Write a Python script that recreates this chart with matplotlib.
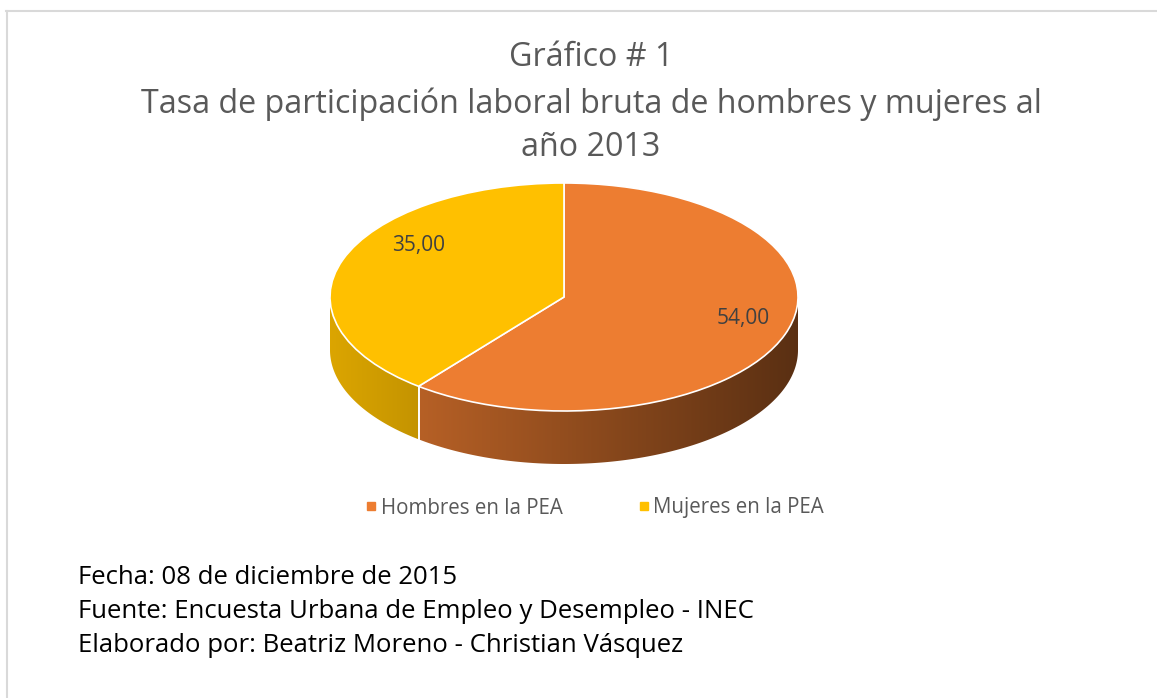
import numpy as np
import matplotlib
matplotlib.use("Agg")
import matplotlib.pyplot as plt
from matplotlib.patches import Polygon
from matplotlib.lines import Line2D
import matplotlib.colors as mcolors

# ---- data ----
categories = ["Hombres en la PEA", "Mujeres en la PEA"]
values = [54.00, 35.00]
colors = ["#ED7D31", "#FFC000"]
title_lines = ["Gráfico # 1",
               "Tasa de participación laboral bruta de hombres y mujeres al",
               "año 2013"]
footer_lines = ["Fecha: 08 de diciembre de 2015",
                "Fuente: Encuesta Urbana de Empleo y Desempleo - INEC",
                "Elaborado por: Beatriz Moreno - Christian Vásquez"]

plt.rcParams['font.family'] = ['Open Sans', 'DejaVu Sans']

W, H = 1157, 698
fig = plt.figure(figsize=(W / 100, H / 100), dpi=100)
fig.patch.set_facecolor("white")

def fx(px):
    return px / W

def fy(py):
    return 1 - py / H

# border lines (top and left)
fig.add_artist(Line2D([fx(6), 1], [fy(11), fy(11)], color="#d9d9d9", lw=1.5))
fig.add_artist(Line2D([fx(6.5), fx(6.5)], [fy(11), 0], color="#d9d9d9", lw=1.5))

# ---- pie geometry (pixels) ----
cx, cy = 564, 297
rx, ry = 234, 114
depth = 53 / ry
xl = (-1.1, 1.1)
yl = (-1.65, 1.1)
left_px = cx + xl[0] * rx
right_px = cx + xl[1] * rx
top_px = cy - yl[1] * ry
bot_px = cy - yl[0] * ry
ax = fig.add_axes([fx(left_px), fy(bot_px), (right_px - left_px) / W, (bot_px - top_px) / H])

wedges, _ = ax.pie(values, startangle=90, counterclock=False, colors=colors,
                   wedgeprops=dict(edgecolor="white", linewidth=1.2, zorder=3))
ax.set_aspect("auto")
ax.axis("off")

# side faces (front half of the ellipse)
def shade(c, f):
    r, g, b = mcolors.to_rgb(c)
    return (r * f, g * f, b * f)

for w, c in zip(wedges, colors):
    t1, t2 = w.theta1 % 360, w.theta2 % 360
    if t2 <= t1:
        t2 += 360
    segs = []
    for off in (0, 360):
        a, b = max(t1, 180 + off), min(t2, 360 + off)
        if b > a:
            segs.append((a, b))
    for a, b in segs:
        t = np.radians(np.linspace(a, b, 200))
        xs, ys = np.cos(t), np.sin(t)
        pts = np.concatenate([np.column_stack([xs, ys]),
                              np.column_stack([xs[::-1], ys[::-1] - depth])])
        poly = Polygon(pts, closed=True, facecolor="none", edgecolor="none", zorder=1)
        ax.add_patch(poly)
        n = 400
        fr = np.linspace(0.86, 0.38, n)
        img = np.array([[shade(c, f) for f in fr]])
        im = ax.imshow(img, extent=(-1, 1, -1 - depth, 0.2), aspect="auto",
                       zorder=1, interpolation="bilinear")
        im.set_clip_path(poly)
        for ang in (a, b):
            if 180 < ang % 360 < 360:
                xa, ya = np.cos(np.radians(ang)), np.sin(np.radians(ang))
                ax.plot([xa, xa], [ya, ya - depth], color="white", lw=1.2, zorder=2)
ax.set_xlim(*xl)
ax.set_ylim(*yl)

# data labels
label_pos = [(0.767, -0.19), (-0.62, 0.455)]
for v, (lx, ly) in zip(values, label_pos):
    ax.text(lx, ly, f"{v:.2f}".replace(".", ","), ha="center", va="center",
            fontsize=15, color="#404040", zorder=5)

# titles
for txt, py in zip(title_lines, [58, 104, 148]):
    fig.text(fx(591), fy(py), txt, ha="center", va="center", fontsize=23.2, color="#595959")

# legend
handles = [Line2D([0], [0], marker="s", linestyle="none", markersize=6,
                  markerfacecolor=c, markeredgecolor=c) for c in colors]
fig.legend(handles, categories, loc="center", bbox_to_anchor=(fx(594), fy(508)),
           ncol=2, frameon=False, fontsize=14.8, labelcolor="#595959",
           handletextpad=0.1, columnspacing=3.6, handlelength=0.7)

# footer
for txt, py in zip(footer_lines, [577, 612, 646]):
    fig.text(fx(78), fy(py), txt, ha="left", va="center", fontsize=18.5, color="#000000")

fig.savefig("out.png", dpi=100, facecolor="white")
